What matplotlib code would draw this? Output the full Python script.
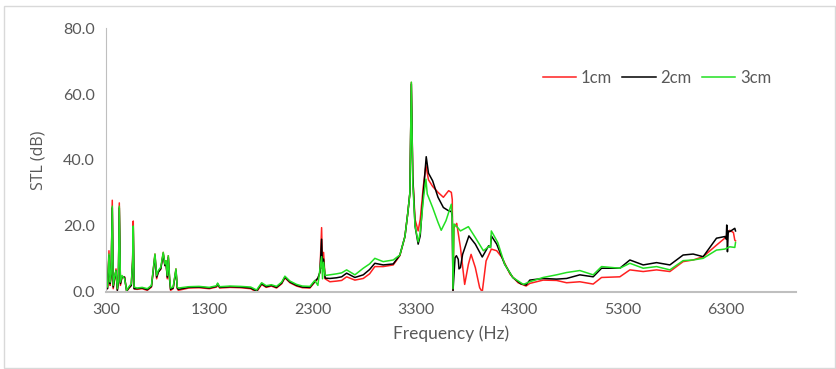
import matplotlib
matplotlib.use("Agg")
import matplotlib.pyplot as plt
from matplotlib.patches import Rectangle
from matplotlib.ticker import FormatStrFormatter

# ---------------- data ----------------
freq_low = [300, 315, 329, 340, 350, 361, 370, 385, 397, 410, 420, 429, 440, 455, 480, 500,
            520, 545, 558, 564, 572, 600, 650, 700, 740, 774, 790, 806, 830, 854, 870, 880,
            893, 903, 915, 925, 950, 977, 990, 1000, 1100, 1200, 1300, 1370, 1380, 1400,
            1500, 1600, 1700, 1757, 1806, 1850, 1900, 1950, 2000, 2031, 2080, 2144, 2200,
            2273, 2320, 2350, 2370, 2386, 2395, 2405, 2420]
stl_low_1cm = [3, 1, 12.5, 2, 5, 27.8, 1, 4, 7, 0.5, 3, 27, 2, 4.5, 4.5, 0.2,
               1, 2, 10, 21.5, 1, 0.8, 1, 0.5, 1.5, 11.5, 4, 6, 7, 12, 8, 9.5,
               4, 11, 4, 0.5, 1, 7, 1, 0.5, 1.2, 1.3, 1.0, 1.5, 2.3, 1.2,
               1.4, 1.3, 1.0, 0.0, 2.3, 1.4, 1.8, 1.2, 2.5, 4.3, 2.8, 1.8, 1.3,
               1.2, 3.0, 4.0, 6.0, 19.5, 7.0, 12.0, 4.0]
stl_low_2cm = [3.5, 1, 11, 2.5, 5, 25.5, 1.5, 4.5, 6.5, 0.5, 3, 25.5, 2.5, 4.5, 4.5, 0.3,
               1.2, 2, 9, 19.5, 1, 1.0, 1.2, 0.7, 1.7, 11, 4.5, 6, 7, 11.5, 8, 9,
               4.5, 10.5, 4, 0.8, 1.2, 6.5, 1.2, 0.8, 1.4, 1.5, 1.2, 1.7, 2.5, 1.4,
               1.6, 1.5, 1.2, 0.3, 2.5, 1.6, 2.0, 1.4, 2.7, 4.5, 3.0, 2.0, 1.5,
               1.4, 3.2, 4.2, 6.0, 16.0, 7.0, 10.0, 4.2]
stl_low_3cm = [4, 1.5, 11.5, 3, 5.5, 26, 2, 5, 6.5, 1, 3.5, 26, 3, 5, 4, 0.5,
               1.5, 2.5, 9.5, 20, 1.5, 1.2, 1.4, 1, 2, 11.5, 5, 6.5, 7.5, 12, 8.5, 9.5,
               5, 11, 4.5, 1.2, 1.5, 7, 1.5, 1.2, 1.6, 1.7, 1.4, 1.9, 2.7, 1.6,
               1.8, 1.7, 1.5, 0.6, 2.8, 1.9, 2.2, 1.7, 3.0, 4.8, 3.3, 2.3, 1.8,
               1.7, 3.5, 2.0, 7.0, 10.7, 4.0, 9.0, 5.0]

freq_1cm = freq_low + [2466, 2530, 2580, 2628, 2708, 2789, 2850, 2901, 2982, 3079, 3143, 3192,
                       3220, 3240, 3254, 3268, 3290, 3320, 3340, 3370, 3395, 3420, 3460, 3512,
                       3564, 3615, 3641, 3650, 3657, 3667, 3693, 3729, 3770, 3806, 3832, 3873,
                       3915, 3940, 3960, 3977, 4028, 4080, 4132, 4209, 4287, 4364, 4400, 4529,
                       4659, 4756, 4884, 5013, 5094, 5271, 5368, 5497, 5626, 5755, 5883, 5980,
                       6077, 6206, 6286, 6335, 6370, 6383, 6390]
stl_1cm = stl_low_1cm + [3.1, 3.3, 3.5, 4.6, 3.6, 4.1, 5.5, 7.7, 7.7, 8.2, 11.0, 16.8,
                         24.0, 30.0, 63.5, 35.0, 22.0, 18.5, 22.0, 32.0, 38.3, 34.0, 32.0, 30.2,
                         28.7, 30.7, 30.2, 28.0, 0.3, 19.5, 20.8, 13.5, 2.3, 8.4, 11.4, 7.4,
                         1.3, 0.0, 5.0, 9.4, 13.0, 12.5, 10.4, 5.4, 2.8, 1.8, 2.6, 3.6,
                         3.5, 2.8, 3.1, 2.4, 4.4, 4.6, 6.7, 6.2, 6.7, 6.2, 9.2, 9.7,
                         10.7, 14.2, 16.3, 18.7, 18.0, 15.7, 15.5]

freq_2cm = freq_low + [2466, 2530, 2580, 2628, 2708, 2789, 2850, 2901, 2982, 3079, 3143, 3192,
                       3220, 3240, 3254, 3268, 3290, 3320, 3340, 3370, 3398, 3420, 3460, 3512,
                       3564, 3615, 3641, 3650, 3657, 3677, 3690, 3708, 3715, 3729, 3750, 3811,
                       3873, 3940, 4002, 4020, 4028, 4080, 4157, 4235, 4312, 4364, 4400, 4529,
                       4659, 4756, 4884, 5013, 5094, 5271, 5368, 5497, 5626, 5755, 5883, 5980,
                       6077, 6206, 6286, 6300, 6305, 6312, 6320, 6335, 6383, 6390]
stl_2cm = stl_low_2cm + [4.1, 4.3, 4.6, 5.7, 4.4, 5.2, 6.8, 8.7, 8.2, 8.5, 11.2, 16.8,
                         24.0, 30.0, 63.0, 35.0, 20.0, 14.5, 17.0, 30.0, 41.0, 36.0, 33.7, 28.7,
                         25.6, 24.6, 24.4, 23.0, 0.3, 10.4, 11.0, 9.9, 7.0, 7.4, 11.4, 17.0,
                         14.5, 10.6, 14.0, 13.5, 17.0, 14.5, 8.4, 4.4, 2.5, 2.1, 3.6, 4.1,
                         3.9, 4.1, 5.2, 4.6, 7.2, 7.2, 9.7, 8.2, 8.9, 8.2, 11.2, 11.5,
                         10.7, 16.3, 16.8, 16.0, 20.3, 12.2, 18.5, 18.3, 19.3, 18.5]

freq_3cm = freq_low + [2466, 2530, 2580, 2628, 2708, 2789, 2850, 2901, 2982, 3079, 3143, 3192,
                       3220, 3240, 3254, 3268, 3290, 3320, 3340, 3370, 3395, 3408, 3460, 3512,
                       3543, 3589, 3641, 3650, 3657, 3667, 3703, 3729, 3806, 3873, 3951, 4013,
                       4020, 4028, 4090, 4157, 4235, 4338, 4400, 4529, 4659, 4756, 4884, 5013,
                       5094, 5271, 5368, 5497, 5626, 5755, 5883, 5980, 6077, 6206, 6286, 6335,
                       6383, 6390]
stl_3cm = stl_low_3cm + [5.2, 5.5, 5.8, 6.7, 5.2, 7.2, 8.5, 10.2, 9.2, 9.7, 11.2, 16.8,
                         24.0, 30.0, 63.6, 33.0, 20.0, 15.2, 18.0, 28.0, 34.2, 29.7, 25.6, 21.1,
                         18.7, 21.6, 26.6, 22.0, 1.0, 20.6, 19.5, 18.5, 19.8, 16.5, 12.5, 14.0,
                         13.5, 18.5, 15.0, 8.4, 4.4, 2.3, 3.1, 4.4, 5.2, 5.9, 6.5, 5.2,
                         7.7, 7.2, 8.7, 7.2, 7.7, 6.7, 9.5, 9.7, 10.2, 12.7, 13.0, 13.7,
                         13.5, 15.0]

series_labels = ["1cm", "2cm", "3cm"]
x_ticks = [300, 1300, 2300, 3300, 4300, 5300, 6300]
y_ticks = [0, 20, 40, 60, 80]

# ---------------- plot ----------------
plt.rcParams['font.family'] = ['Lato', 'DejaVu Sans']
txt = '#595959'

fig = plt.figure(figsize=(8.37, 3.69), dpi=100)
ax = fig.add_axes([0.1266, 0.2087, 0.8244, 0.7154])

colors = ['#FF2020', '#000000', '#22E022']
for fr, st, lab, c in zip([freq_1cm, freq_2cm, freq_3cm],
                          [stl_1cm, stl_2cm, stl_3cm], series_labels, colors):
    ax.plot(fr, st, color=c, lw=1.1, label=lab)

ax.set_xlim(300, 6975)
ax.set_ylim(0, 80)
ax.set_xticks(x_ticks)
ax.set_yticks(y_ticks)
ax.yaxis.set_major_formatter(FormatStrFormatter('%.1f'))
ax.tick_params(length=0, labelsize=11.5, colors=txt, pad=8)
for s in ['top', 'right']:
    ax.spines[s].set_visible(False)
ax.spines['left'].set_color('#BFBFBF')
ax.spines['bottom'].set_color('#BFBFBF')
ax.spines['bottom'].set_linewidth(1.5)
ax.spines['left'].set_linewidth(0.8)

ax.set_xlabel('Frequency (Hz)', fontsize=12.5, color=txt, labelpad=6)
ax.set_ylabel('STL (dB)', fontsize=11.5, color=txt, family=['Open Sans', 'DejaVu Sans'], labelpad=12)

leg = ax.legend(loc='center', bbox_to_anchor=(0.785, 0.789), bbox_transform=fig.transFigure,
                ncol=3, frameon=False, fontsize=12, handlelength=2.0, handletextpad=0.3,
                columnspacing=0.6)
for t in leg.get_texts():
    t.set_color(txt)

fig.patches.append(Rectangle((0.005, 0.003), 0.993, 0.98, transform=fig.transFigure,
                             fill=False, edgecolor='#D9D9D9', lw=1.0))

fig.savefig('out.png', dpi=100)
